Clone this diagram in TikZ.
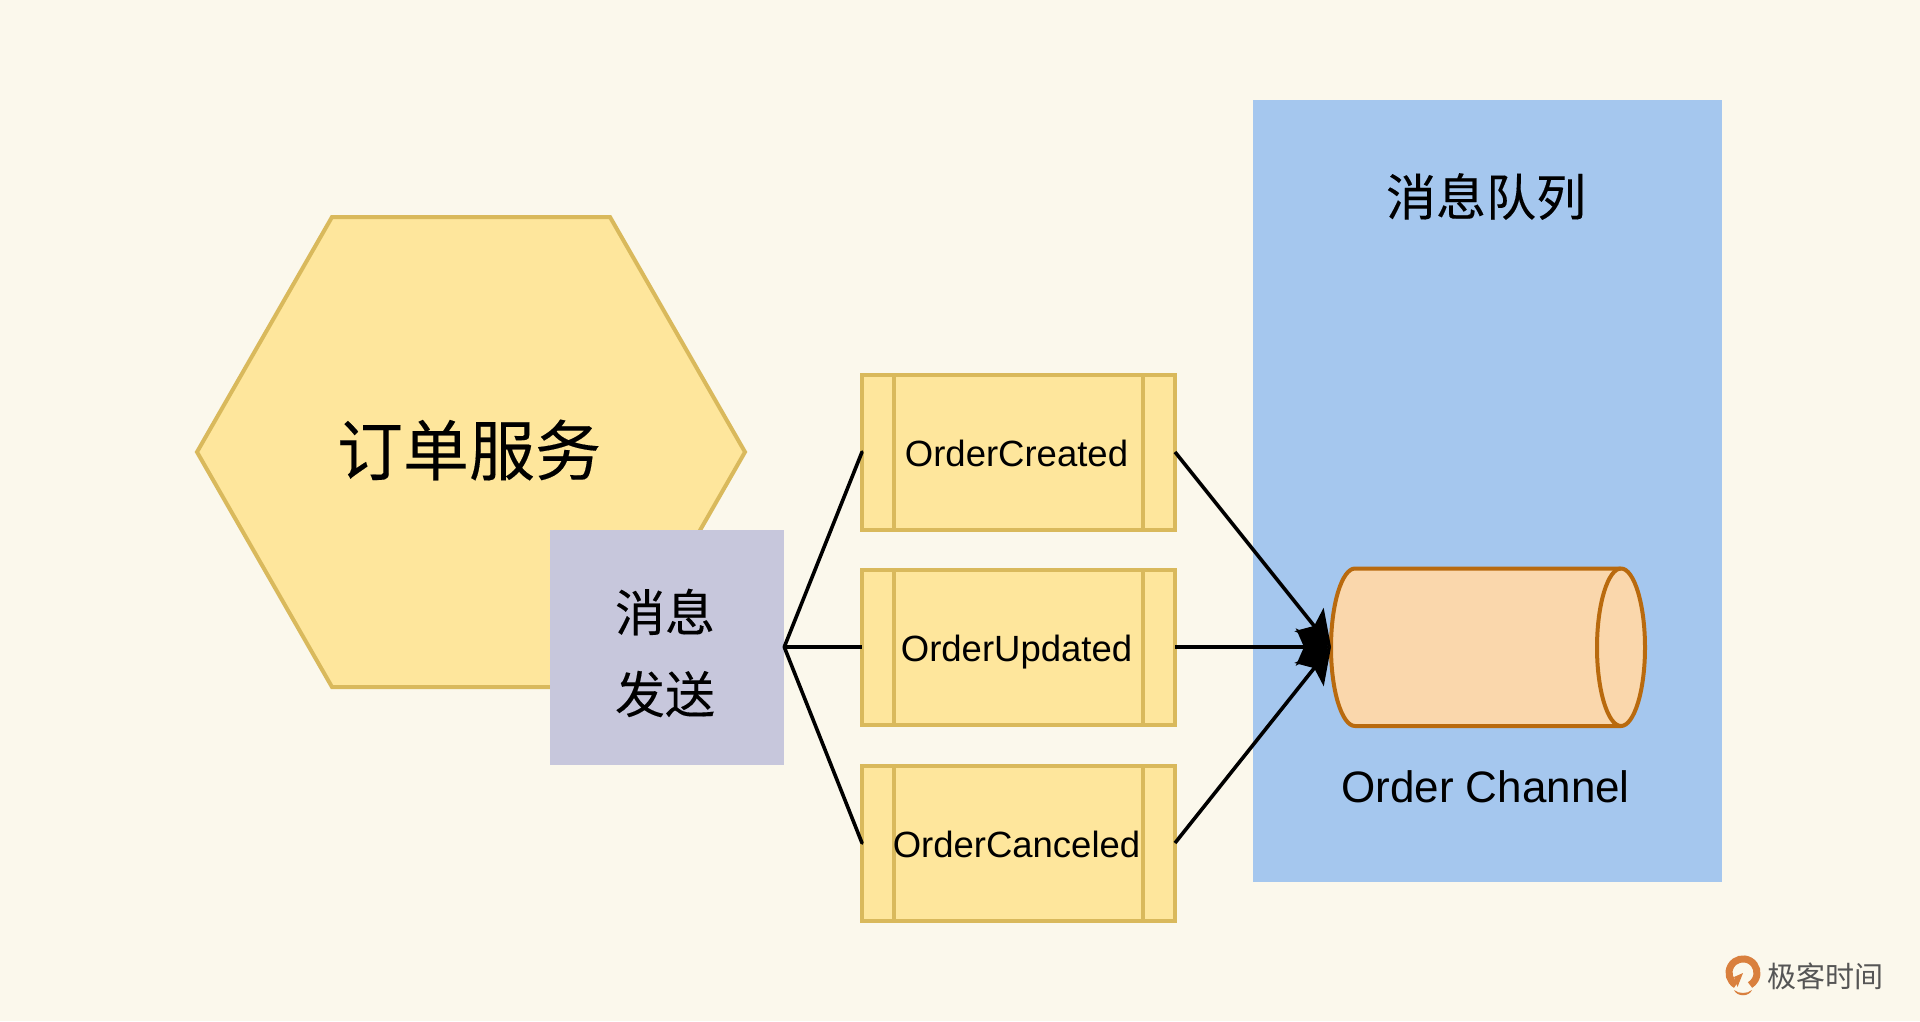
\documentclass[tikz,border=0pt]{standalone}
\usepackage{fontspec}
\setmainfont{Liberation Sans}
\newfontfamily\cjk[FakeBold=0.2]{Noto Sans CJK SC}
\newfontfamily\cjkreg{Noto Sans CJK SC}
\usetikzlibrary{arrows.meta}
\definecolor{bgc}{HTML}{FBF8EC}
\definecolor{yel}{HTML}{FEE69C}
\definecolor{yelb}{HTML}{D9B95C}
\definecolor{blu}{HTML}{A5C7EE}
\definecolor{pur}{HTML}{C7C7DC}
\definecolor{cylf}{HTML}{FAD7AC}
\definecolor{cylb}{HTML}{B96A0E}
\definecolor{logoc}{HTML}{D9803E}
\definecolor{logot}{HTML}{555555}
\tikzset{
  eventbox/.style={draw=yelb,fill=yel,line width=4pt,minimum width=313pt,minimum height=155pt,outer sep=0pt,inner sep=0pt},
  eventtext/.style={font=\fontsize{36.5}{36.5}\selectfont,text height=27pt,text depth=0pt,inner sep=0pt},
  link/.style={draw=black,line width=3.6pt},
  arrowlink/.style={link,-{Stealth[length=35pt,width=37pt,inset=8pt]}},
  cyl/.style={draw=cylb,fill=cylf,line width=4pt},
}
\begin{document}
\begin{tikzpicture}[x=1pt,y=-1pt]
\useasboundingbox (0,0) rectangle (1920,1021);
\fill[bgc] (0,0) rectangle (1920,1021);
% queue panel
\node[fill=blu,minimum width=469pt,minimum height=782pt,inner sep=0pt,outer sep=0pt] (queue) at (1487.5,491) {};
\node[font=\cjk\fontsize{50}{50}\selectfont] (queuelabel) at (1486,196.5) {消息队列};
% service hexagon
\draw[draw=yelb,fill=yel,line width=4pt,line join=miter]
  (197,452) -- (332,217) -- (610,217) -- (745,452) -- (610,687) -- (332,687) -- cycle;
\node[font=\cjk\fontsize{66}{66}\selectfont] (service) at (469,450) {订单服务};
% sender
\node[fill=pur,minimum width=234.5pt,minimum height=235pt,inner sep=0pt,outer sep=0pt] (sender) at (667,647) {};
\node[font=\cjk\fontsize{50}{50}\selectfont] (sendera) at (665,612) {消息};
\node[font=\cjk\fontsize{50}{50}\selectfont] (senderb) at (665,694) {发送};
% event boxes
\foreach \n/\t/\y in {created/OrderCreated/452,updated/OrderUpdated/647,canceled/OrderCanceled/843}{
  \node[eventbox] (\n) at (1018.5,\y) {};
  \draw[draw=yelb,line width=4pt] ([xshift=32pt]\n.north west) -- ([xshift=32pt]\n.south west);
  \draw[draw=yelb,line width=4pt] ([xshift=-32pt]\n.north east) -- ([xshift=-32pt]\n.south east);
  \node[eventtext] (\n text) at (1016.5,\y+1) {\t};
}
% channel cylinder
\draw[cyl] (1355,568.5) -- (1621,568.5)
  .. controls (1634,568.5) and (1645,604) .. (1645,647.5)
  .. controls (1645,691) and (1634,726) .. (1621,726)
  -- (1355,726)
  .. controls (1342,726) and (1331,691) .. (1331,647.5)
  .. controls (1331,604) and (1342,568.5) .. (1355,568.5) -- cycle;
\draw[cyl,fill=none] (1621,568.5) .. controls (1608,568.5) and (1597,604) .. (1597,647.5)
  .. controls (1597,691) and (1608,726) .. (1621,726);
\coordinate (chan) at (1331,647);
\node[font=\fontsize{44}{44}\selectfont] (chanlabel) at (1485.5,786.5) {Order Channel};
% connectors
\draw[link,line cap=round] (sender.east) -- (created.west);
\draw[link] (sender.east) -- (updated.west);
\draw[link,line cap=round] (sender.east) -- (canceled.west);
\draw[arrowlink] (created.east) -- (chan);
\draw[arrowlink] (updated.east) -- (chan);
\draw[arrowlink] (canceled.east) -- (chan);
% logo
\draw[logoc,line width=7pt] (1736,985) arc (240:-60:14pt);
\fill[logoc] (1743,973) -- (1737.5,987) -- (1734,977) -- cycle;
\fill[logoc] (1734,990) .. controls (1739,994) and (1747,994) .. (1752,990) .. controls (1749,997) and (1737,997) .. (1734,990) -- cycle;
\node[font=\cjkreg\fontsize{29}{29}\selectfont,text=logot,inner sep=0pt] (brand) at (1825,976) {极客时间};
\end{tikzpicture}
\end{document}
